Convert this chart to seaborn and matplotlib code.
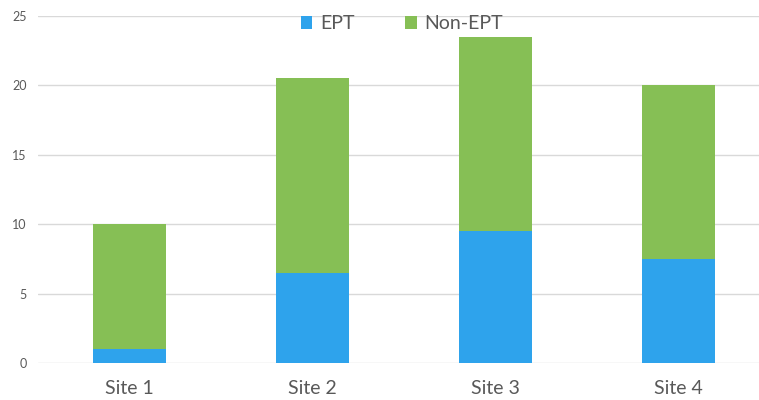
import pandas as pd
import seaborn as sns
import matplotlib.pyplot as plt

# data
sites = ['Site 1', 'Site 2', 'Site 3', 'Site 4']
ept = [1, 6.5, 9.5, 7.5]
non_ept = [9, 14, 14, 12.5]

df = pd.DataFrame({'Site': sites, 'EPT': ept, 'Non-EPT': non_ept})
df['Total'] = df['EPT'] + df['Non-EPT']

sns.set_style('white')
plt.rcParams['font.family'] = ['Lato', 'DejaVu Sans']

fig = plt.figure(figsize=(7.59, 4.0), dpi=100)
ax = fig.add_axes([0.05, 0.0925, 0.95, 0.8675])

blue = '#2EA3EC'
green = '#86BF55'

# stacked: draw totals in green, EPT in blue over them
sns.barplot(data=df, x='Site', y='Total', color=green, width=0.4,
            saturation=1, ax=ax, label='Non-EPT', zorder=3, linewidth=0)
sns.barplot(data=df, x='Site', y='EPT', color=blue, width=0.4,
            saturation=1, ax=ax, label='EPT', zorder=3, linewidth=0)

ax.set_ylim(0, 25)
ax.set_xlim(-0.5, 3.44)
ax.set_yticks(range(0, 26, 5))
ax.yaxis.grid(True, color='#D9D9D9', linewidth=1, zorder=0)
ax.set_axisbelow(True)
for s in ax.spines.values():
    s.set_visible(False)

ax.set_xlabel('')
ax.set_ylabel('')
ax.tick_params(axis='y', labelsize=9, labelcolor='#595959', length=0, pad=8)
ax.tick_params(axis='x', labelsize=14, labelcolor='#595959', length=0, pad=12)

handles, labels = ax.get_legend_handles_labels()
order = [labels.index('EPT'), labels.index('Non-EPT')]
ax.legend([handles[i] for i in order], [labels[i] for i in order],
          loc='upper center', bbox_to_anchor=(0.505, 1.052), ncol=2, frameon=False,
          fontsize=14, handlelength=0.6, handleheight=0.6, columnspacing=2.6,
          handletextpad=0.4, labelcolor='#595959')

fig.savefig('out.png', dpi=100)
